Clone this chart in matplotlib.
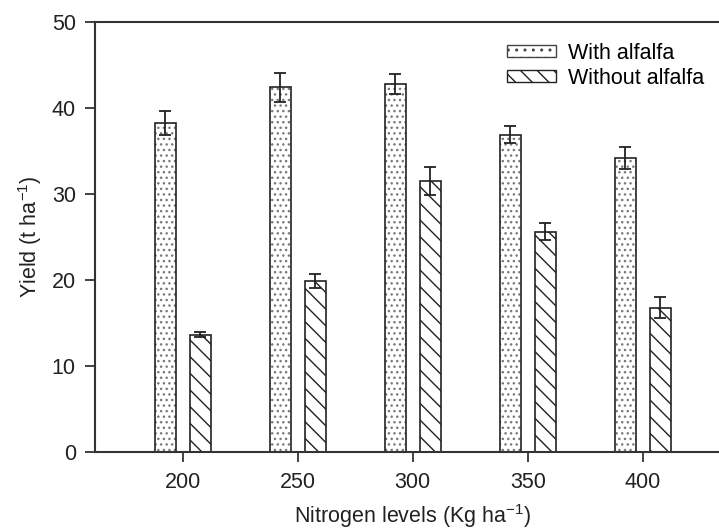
import numpy as np
from matplotlib import pyplot as plt
from matplotlib.patches import Patch

plt.rcParams['font.family'] = ['Liberation Sans', 'DejaVu Sans']
plt.rcParams['mathtext.fontset'] = 'custom'
plt.rcParams['mathtext.rm'] = 'Liberation Sans'
plt.rcParams['mathtext.it'] = 'Liberation Sans'
plt.rcParams['hatch.linewidth'] = 1.0

levels = ['200', '250', '300', '350', '400']
with_alfalfa = [38.3, 42.4, 42.8, 36.9, 34.2]
with_err = [1.4, 1.7, 1.15, 1.0, 1.3]
without_alfalfa = [13.65, 19.9, 31.5, 25.6, 16.8]
without_err = [0.3, 0.8, 1.6, 1.0, 1.2]

x = np.arange(1, len(levels) + 1)
w = 0.185
off = 0.152
fs = 15.5

fig = plt.figure(figsize=(7.19, 5.30), dpi=100)
ax = fig.add_axes([0.1325, 0.147, 0.883, 0.8115])

# dotted bars: gray dots first, then dark outline on top
ax.bar(x - off, with_alfalfa, w, color='white', edgecolor='#7a7a7a',
       hatch='...', linewidth=0)
ax.bar(x - off, with_alfalfa, w, color='none', edgecolor='#222222',
       linewidth=1.2)
ax.bar(x + off, without_alfalfa, w, color='white', edgecolor='#222222',
       hatch='\\\\', linewidth=1.2)
ax.errorbar(x - off, with_alfalfa, yerr=with_err, fmt='none', ecolor='#222222',
            elinewidth=1.3, capsize=4.6, capthick=1.3)
ax.errorbar(x + off, without_alfalfa, yerr=without_err, fmt='none',
            ecolor='#222222', elinewidth=1.3, capsize=4.6, capthick=1.3)

handles = [Patch(facecolor='white', edgecolor='#444444', hatch='..', linewidth=1.0),
           Patch(facecolor='white', edgecolor='#222222', hatch='\\\\', linewidth=1.0)]
ax.legend(handles, ['With alfalfa', 'Without alfalfa'], loc='upper left',
          bbox_to_anchor=(0.648, 0.952), frameon=False, fontsize=fs,
          handlelength=2.3, handleheight=0.5, handletextpad=0.55,
          labelspacing=0.2, borderaxespad=0, borderpad=0)

ax.set_xlim(0.24, 5.76)
ax.set_ylim(0, 50)
ax.set_xticks(x)
ax.set_xticklabels(levels)
ax.set_yticks([0, 10, 20, 30, 40, 50])
ax.tick_params(axis='both', labelsize=fs, colors='#222222', length=7,
               width=1.2, pad=7)
for s in ax.spines.values():
    s.set_color('#333333')
    s.set_linewidth(1.5)

ax.set_xlabel('Nitrogen levels (Kg ha$^{-1}$)', fontsize=fs, color='#222222')
ax.set_ylabel('Yield (t ha$^{-1}$)', fontsize=fs, color='#222222')
ax.xaxis.set_label_coords(0.5, -0.117)
ax.yaxis.set_label_coords(-0.08, 0.5)

plt.savefig('out.png', dpi=100)
